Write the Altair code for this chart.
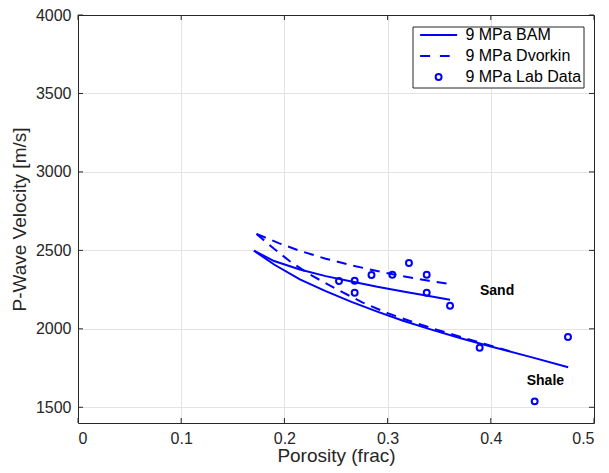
import altair as alt
import pandas as pd

# ---------------- data ----------------
bam_sand_phi = [0.1705, 0.19, 0.215, 0.24, 0.265, 0.29, 0.315, 0.34, 0.3605]
bam_sand_vp = [2498, 2432, 2378, 2336, 2302, 2268, 2238, 2210, 2186]

bam_shale_phi = [0.1705, 0.19, 0.215, 0.24, 0.265, 0.29, 0.315, 0.34, 0.37, 0.40, 0.44, 0.475]
bam_shale_vp = [2498, 2410, 2315, 2240, 2172, 2110, 2052, 2000, 1942, 1888, 1818, 1755]

dv_sand_phi = [0.173, 0.195, 0.215, 0.24, 0.265, 0.29, 0.315, 0.34, 0.3605]
dv_sand_vp = [2605, 2545, 2497, 2447, 2405, 2368, 2335, 2306, 2285]

dv_shale_phi = [0.173, 0.19, 0.205, 0.225, 0.25, 0.275, 0.30, 0.325, 0.35, 0.375, 0.40, 0.425]
dv_shale_vp = [2605, 2510, 2432, 2345, 2255, 2170, 2100, 2042, 1990, 1940, 1893, 1845]

lab_phi = [0.2529, 0.2681, 0.2681, 0.2844, 0.3046, 0.3207, 0.3379, 0.3379, 0.3605, 0.3892, 0.4425, 0.4748]
lab_vp = [2305, 2307, 2230, 2343, 2345, 2420, 2345, 2230, 2147, 1880, 1538, 1948]

series_names = ["9 MPa BAM", "9 MPa Dvorkin", "9 MPa Lab Data"]

note_text = ["Sand", "Shale"]
note_phi = [0.3895, 0.4348]
note_vp = [2241, 1668]

x_ticks = [0, 0.1, 0.2, 0.3, 0.4, 0.5]
y_ticks = [1500, 2000, 2500, 3000, 3500, 4000]
x_domain = [0, 0.5]
y_domain = [1400, 4000]

# ---------------- styling ----------------
W, H = 516, 408
BLUE = "#0000ff"
AXC = "#262626"
GRID = "#e3e3e3"
FONT = "Liberation Sans"
TICK = 5

def seg(name, model, phis, vps):
    return pd.DataFrame({"segment": name, "model": model, "phi": phis, "vp": vps})

bam_df = pd.concat([seg("sand", "BAM", bam_sand_phi, bam_sand_vp),
                    seg("shale", "BAM", bam_shale_phi, bam_shale_vp)])
dv_df = pd.concat([seg("sand", "Dvorkin", dv_sand_phi, dv_sand_vp),
                   seg("shale", "Dvorkin", dv_shale_phi, dv_shale_vp)])
lab_df = pd.DataFrame({"phi": lab_phi, "vp": lab_vp, "series": series_names[2]})
note_df = pd.DataFrame({"text": note_text, "phi": note_phi, "vp": note_vp})
xt_df = pd.DataFrame({"v": x_ticks})
yt_df = pd.DataFrame({"v": y_ticks})

xs = alt.Scale(domain=x_domain, nice=False, zero=False)
ys = alt.Scale(domain=y_domain, nice=False, zero=False)

x_bottom = alt.Axis(orient="bottom", values=x_ticks, format="~g", grid=False, ticks=False,
                    domain=True, domainColor=AXC, labelFont=FONT, labelFontSize=16,
                    labelColor=AXC, labelPadding=7, title="Porosity (frac)", titleFont=FONT,
                    titleFontSize=19, titleFontWeight="normal", titleColor=AXC, titlePadding=0)
y_left = alt.Axis(orient="left", values=y_ticks, format="d", grid=False, ticks=False,
                  domain=True, domainColor=AXC, labelFont=FONT, labelFontSize=16,
                  labelColor=AXC, labelPadding=7, title="P-Wave Velocity [m/s]", titleFont=FONT,
                  titleFontSize=19, titleFontWeight="normal", titleColor=AXC, titlePadding=6)
x_top = alt.Axis(orient="top", values=x_ticks[1:-1], grid=True, gridColor=GRID, ticks=False,
                 labels=False, domain=True, domainColor=AXC, title=None)
y_right = alt.Axis(orient="right", values=y_ticks[:-1], grid=True, gridColor=GRID, ticks=False,
                   labels=False, domain=True, domainColor=AXC, title=None)

# grid + box frame layer (top / right axes carry the grid)
frame = alt.Chart(xt_df).mark_rule(opacity=0).encode(
    x=alt.X("v:Q", scale=xs, axis=x_top),
    y=alt.Y("v2:Q", scale=ys, axis=y_right),
).transform_calculate(v2="1500")

# the only layer that carries the bottom / left axes
bam = alt.Chart(bam_df).mark_line(color=BLUE, strokeWidth=2).encode(
    x=alt.X("phi:Q", scale=xs, axis=x_bottom),
    y=alt.Y("vp:Q", scale=ys, axis=y_left),
    detail="segment:N",
    order="phi:Q",
)

dv = alt.Chart(dv_df).mark_line(color=BLUE, strokeWidth=2, strokeDash=[10, 7]).encode(
    x=alt.X("phi:Q", scale=xs, axis=None),
    y=alt.Y("vp:Q", scale=ys, axis=None),
    detail="segment:N",
    order="phi:Q",
)

SYM = 37 * 37
circle_path = "M-0.16,0A0.16,0.16,0,1,1,0.16,0A0.16,0.16,0,1,1,-0.16,0Z"
shape_range = ["M-1,0H1", "M-1,0H-0.46M0.07,0H0.6", circle_path]

legend = alt.Legend(
    orient="none", legendX=334.5, legendY=11.5, title=None,
    symbolSize=SYM, symbolStrokeWidth=2, symbolStrokeColor=BLUE, symbolOpacity=1,
    symbolFillColor="transparent", symbolOffset=4.6,
    labelFont=FONT, labelFontSize=16, labelColor="#000000", labelOffset=7.3,
    labelLimit=300, clipHeight=13, rowPadding=4, padding=2,
    strokeColor=AXC, fillColor="#ffffff",
)

lab = alt.Chart(lab_df).mark_point(filled=False, color=BLUE, strokeWidth=2, size=SYM,
                                   opacity=1).encode(
    x=alt.X("phi:Q", scale=xs, axis=None),
    y=alt.Y("vp:Q", scale=ys, axis=None),
    shape=alt.Shape("series:N", scale=alt.Scale(domain=series_names, range=shape_range),
                    legend=legend),
)

notes = alt.Chart(note_df).mark_text(font=FONT, fontSize=14, fontWeight="bold", color="#000000",
                                     align="left", baseline="middle").encode(
    x=alt.X("phi:Q", scale=xs, axis=None),
    y=alt.Y("vp:Q", scale=ys, axis=None),
    text="text:N",
)

# inward ticks on all four sides
tb = alt.Chart(xt_df).mark_rule(color=AXC, strokeWidth=1).encode(
    x=alt.X("v:Q", scale=xs, axis=None), y=alt.value(H), y2=alt.value(H - TICK))
tt = alt.Chart(xt_df).mark_rule(color=AXC, strokeWidth=1).encode(
    x=alt.X("v:Q", scale=xs, axis=None), y=alt.value(0), y2=alt.value(TICK))
tl = alt.Chart(yt_df).mark_rule(color=AXC, strokeWidth=1).encode(
    y=alt.Y("v:Q", scale=ys, axis=None), x=alt.value(0), x2=alt.value(TICK))
tr = alt.Chart(yt_df).mark_rule(color=AXC, strokeWidth=1).encode(
    y=alt.Y("v:Q", scale=ys, axis=None), x=alt.value(W - TICK), x2=alt.value(W))

chart = alt.layer(frame, bam, dv, lab, notes, tb, tt, tl, tr).properties(
    width=W, height=H,
    autosize=alt.AutoSizeParams(type="none"),
    padding={"left": 78, "top": 15, "right": 15, "bottom": 50},
    background="#ffffff",
).configure_view(stroke=None)

chart.save("out.html", embed_options={"renderer": "svg", "actions": False})
